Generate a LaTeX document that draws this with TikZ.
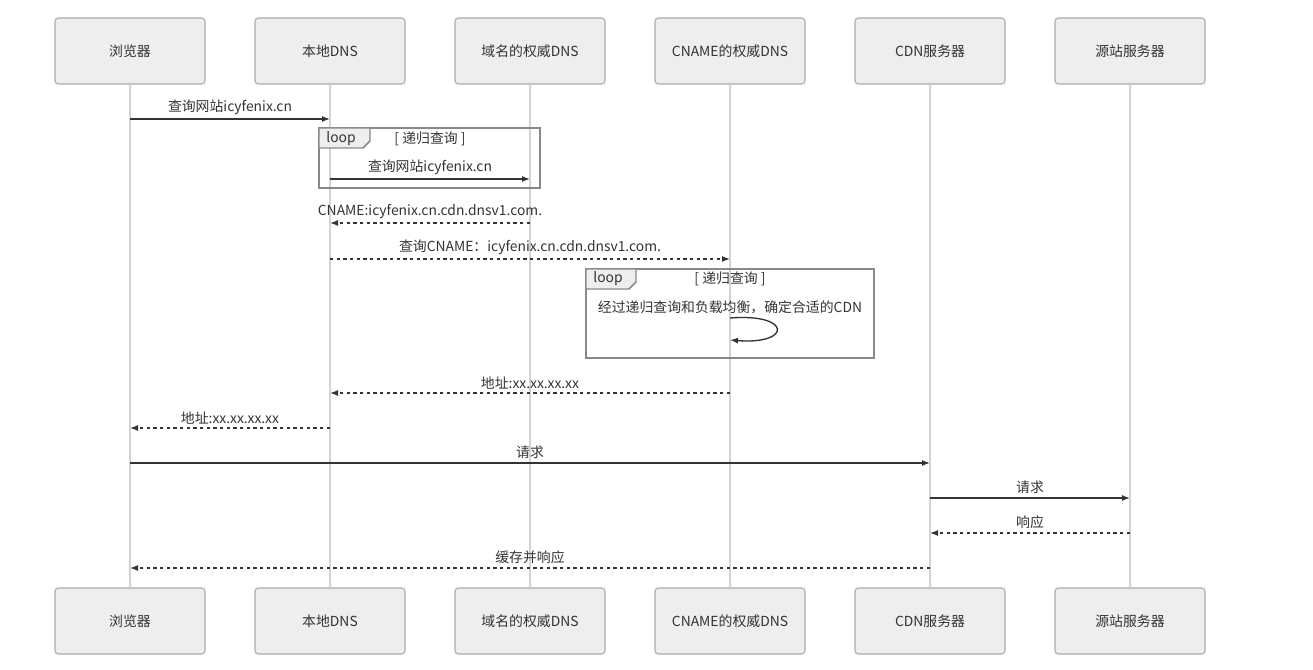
\documentclass[tikz,border=0pt]{standalone}
\usepackage{fontspec}
\setmainfont{Noto Sans CJK SC}
\usetikzlibrary{arrows.meta,calc}
\definecolor{boxfill}{HTML}{EEEEEE}
\definecolor{boxline}{HTML}{AAAAAA}
\definecolor{lifeline}{HTML}{D3D3D3}
\definecolor{msgcol}{HTML}{333333}
\definecolor{framecol}{HTML}{888888}
\begin{document}
\begin{tikzpicture}[x=0.75pt,y=-0.75pt,
  every node/.style={font=\fontsize{10.4}{12}\selectfont, text=msgcol},
  actor/.style={draw=boxline, fill=boxfill, rounded corners=2.5pt, line width=0.8pt,
    minimum width=112.5pt, minimum height=49.5pt, inner sep=0pt},
  life/.style={draw=lifeline, line width=1.4pt},
  msg/.style={draw=msgcol, line width=1pt, -{Latex[length=6pt,width=4.5pt]}},
  reply/.style={msg, dash pattern=on 2.5pt off 2.5pt},
  lbl/.style={midway, above=1.5pt, inner sep=1pt},
  frame/.style={draw=framecol, line width=1.1pt},
  tab/.style={draw=framecol, fill=boxfill, line width=1.1pt}]
\useasboundingbox (0,0) rectangle (1313,670);
% actors
\foreach \i/\x/\t in {1/130/浏览器,2/330/本地DNS,3/530/域名的权威DNS,4/730/CNAME的权威DNS,5/930/CDN服务器,6/1130/源站服务器}{
  \node[actor] (a\i) at (\x,51) {\t};
  \node[actor] (b\i) at (\x,621) {\t};
}
\foreach \i in {1,...,6}{ \draw[life] (a\i.south) -- (b\i.north); }
% messages
\draw[msg] (a1 |- 0,119) -- node[lbl]{查询网站icyfenix.cn} (a2 |- 0,119);
% loop 1
\draw[frame] (319,128) rectangle (540,188);
\draw[tab] (319,128) -- (370,128) -- (370,141) -- (363,148) -- (319,148) -- cycle;
\node (l1) at (341,139) {loop};
\node (g1) at (430,139) {[ 递归查询 ]};
\draw[msg] (a2 |- 0,179) -- node[lbl]{查询网站icyfenix.cn} (a3 |- 0,179);
\draw[reply] (a3 |- 0,223) -- node[lbl]{CNAME:icyfenix.cn.cdn.dnsv1.com.} (a2 |- 0,223);
\draw[reply] (a2 |- 0,259) -- node[lbl]{查询CNAME：icyfenix.cn.cdn.dnsv1.com.} (a4 |- 0,259);
% loop 2
\draw[frame] (586,269) rectangle (874,358);
\draw[tab] (586,269) -- (636,269) -- (636,282) -- (629,289) -- (586,289) -- cycle;
\node (l2) at (608,279) {loop};
\node (g2) at (730,279) {[ 递归查询 ]};
\node (s1) at (730,307) {经过递归查询和负载均衡，确定合适的CDN};
\draw[msg] (a4 |- 0,318) .. controls (792,313) and (792,345) .. (a4 |- 0,340);
\draw[reply] (a4 |- 0,393) -- node[lbl]{地址:xx.xx.xx.xx} (a2 |- 0,393);
\draw[reply] (a2 |- 0,428) -- node[lbl]{地址:xx.xx.xx.xx} (a1 |- 0,428);
\draw[msg] (a1 |- 0,463) -- node[lbl]{请求} (a5 |- 0,463);
\draw[msg] (a5 |- 0,498) -- node[lbl]{请求} (a6 |- 0,498);
\draw[reply] (a6 |- 0,533) -- node[lbl]{响应} (a5 |- 0,533);
\draw[reply] (a5 |- 0,568) -- node[lbl]{缓存并响应} (a1 |- 0,568);
\end{tikzpicture}
\end{document}
